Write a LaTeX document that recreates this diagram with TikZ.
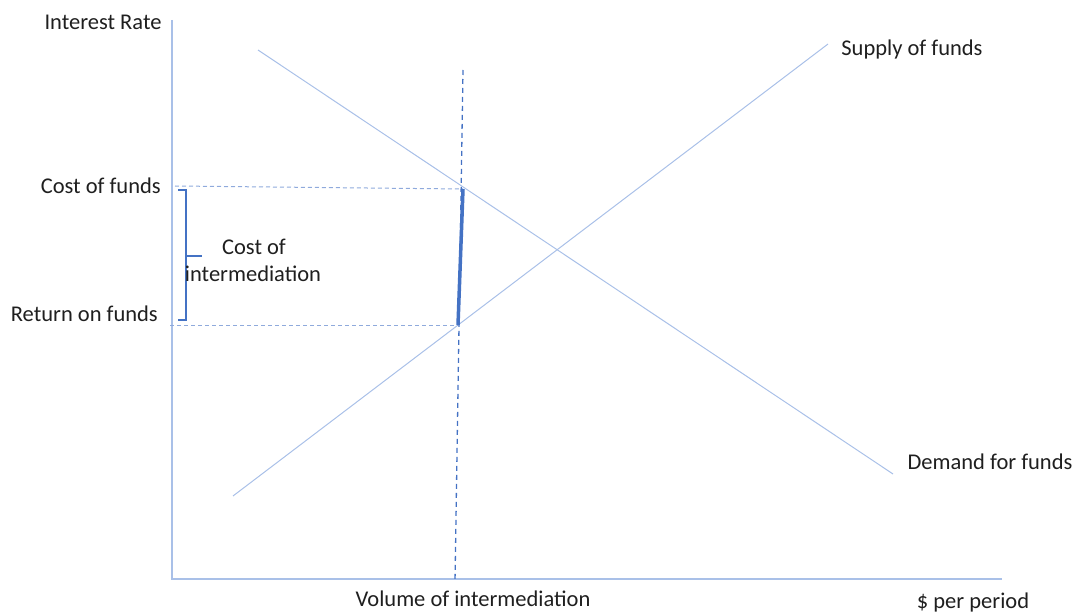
\documentclass[tikz,border=0pt]{standalone}
\usepackage{fontspec}
\setmainfont{Carlito}
\begin{document}
\begin{tikzpicture}[x=1pt,y=-1pt,
  curve/.style={draw=lightline, line width=1pt},
  axis/.style={draw=lightline, line width=1.1pt},
  guide/.style={draw=dashblue, line width=1pt, dash pattern=on 4pt off 3pt},
  lbl/.style={font=\fontsize{22.5}{25}\selectfont, text=black!88, inner sep=0pt}]
\definecolor{lightline}{HTML}{A9C0E8}
\definecolor{dashblue}{HTML}{8FAADC}
\definecolor{midblue}{HTML}{4472C4}
\useasboundingbox (0,0) rectangle (1076,612);
% axes
\coordinate (otop) at (172,20);
\coordinate (o) at (172,579);
\coordinate (xend) at (1002,579);
\draw[axis] (otop) -- (o) -- (xend);
% curves
\coordinate (d1) at (258,50);
\coordinate (d2) at (893,474);
\coordinate (s1) at (233,496);
\coordinate (s2) at (828,44);
\draw[curve] (d1) -- (d2);
\draw[curve] (s1) -- (s2);
% key points
\coordinate (pc) at (463,189);
\coordinate (pr) at (458,325);
\coordinate (vtop) at (463,70);
\coordinate (vbot) at (455,582);
\coordinate (cl) at (175,186);
\coordinate (rl) at (170,325);
\draw[guide, draw=midblue, line width=1.3pt, dash pattern=on 5pt off 4pt] (vtop) -- (vbot);
\draw[guide] (cl) -- (pc);
\draw[guide] (rl) -- (pr);
\draw[draw=midblue, line width=3.5pt] (pc) -- (pr);
% brace
\coordinate (bt) at (178,190);
\coordinate (bb) at (178,320);
\draw[draw=midblue, line width=1.8pt] (bt) -- (186,190) -- (186,320) -- (bb);
\coordinate (bm) at (186,256);
\coordinate (bmt) at (202,256);
\draw[draw=midblue, line width=1.8pt] (bm) -- (bmt);
% labels
\node[lbl] (ir) at (103,22) {Interest Rate};
\node[lbl] (sf) at (912,50) {Supply of funds};
\node[lbl, anchor=east] (cf) at (161,186) {Cost of funds};
\node[lbl, anchor=east] (rf) at (158,314) {Return on funds};
\node[lbl] (ci1) at (254,247) {Cost of};
\node[lbl] (ci2) at (253,274) {intermediation};
\node[lbl] (df) at (990,462) {Demand for funds};
\node[lbl] (vi) at (473,599) {Volume of intermediation};
\node[lbl] (pp) at (973,602) {\$ per period};
\end{tikzpicture}
\end{document}
